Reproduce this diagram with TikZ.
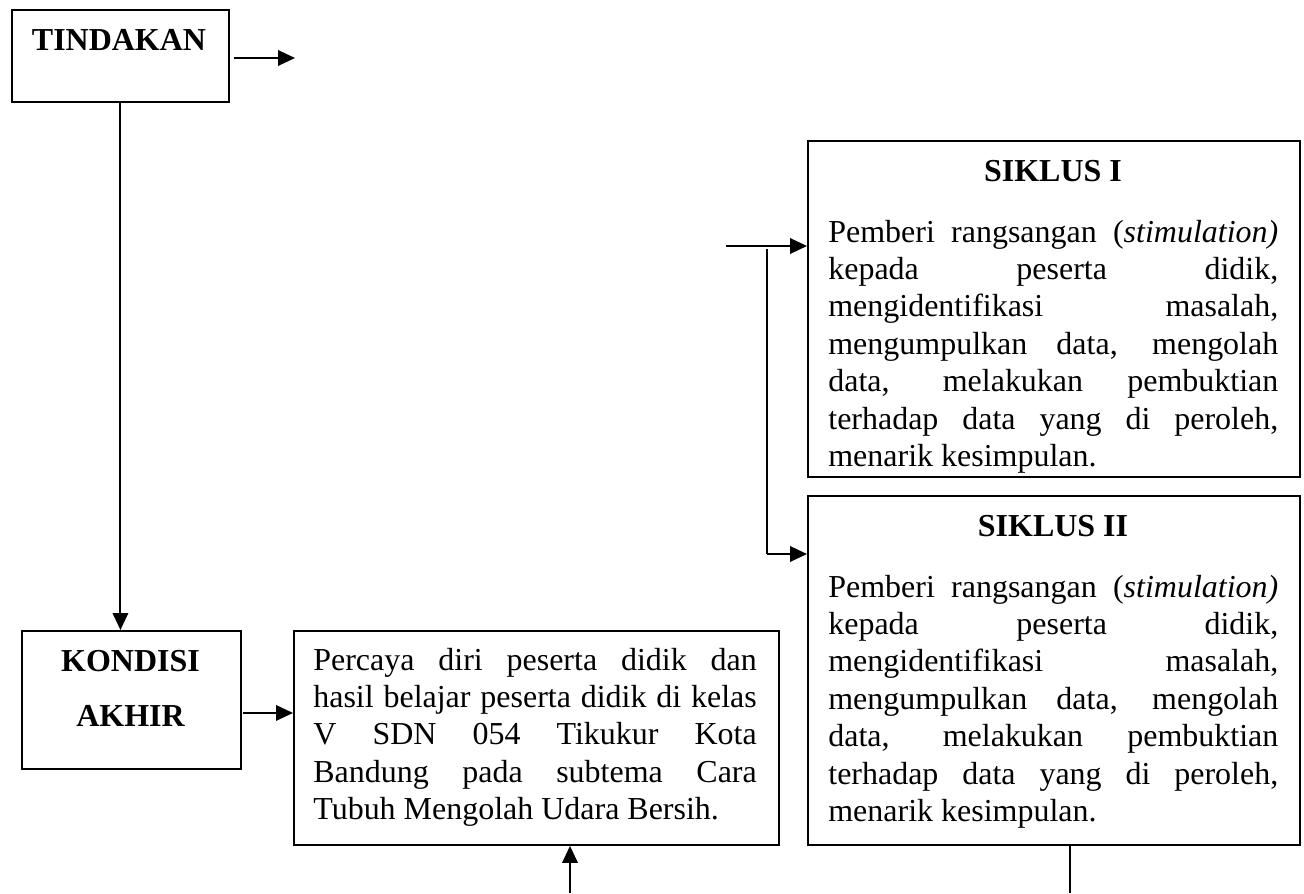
\documentclass[tikz,border=0pt]{standalone}
\usepackage{fontspec}
\setmainfont{Liberation Serif}
\usetikzlibrary{arrows.meta,calc}
\newcommand{\langkah}{Pemberi rangsangan (\textit{stimulation)}\linebreak
  kepada peserta didik,\linebreak
  mengidentifikasi masalah,\linebreak
  mengumpulkan data, mengolah\linebreak
  data, melakukan pembuktian\linebreak
  terhadap data yang di peroleh,\linebreak
  menarik kesimpulan.}
\tikzset{
  box/.style={draw, line width=1.1pt, anchor=north west, inner sep=0pt},
  head/.style={font=\fontsize{18.2}{21.3}\selectfont\bfseries, inner sep=0pt, anchor=base},
  body/.style={font=\fontsize{18.2}{21.3}\selectfont, text width=#1, align=justify, inner sep=0pt, anchor=base west},
  body/.default=9cm,
  arr/.style={-{Triangle[length=0.34cm,width=0.31cm]}, line width=1.1pt},
  link/.style={line width=0.7pt},
}

\begin{document}
\begin{tikzpicture}[x=0.02cm, y=-0.02cm]
  \useasboundingbox (0,0) rectangle (1304,893);
  % left column
  \node[box, minimum width=4.34cm, minimum height=1.84cm] (tind) at (11,9) {};
  \node[head] at (119,50) {TINDAKAN};
  \node[box, minimum width=4.38cm, minimum height=2.76cm] (kond) at (21,630) {};
  \node[head] at (130.5,671.7) {KONDISI};
  \node[head] at (130.5,726.7) {AKHIR};
  % result
  \node[box, minimum width=9.7cm, minimum height=4.28cm] (hasil) at (293,630) {};
  \node[body=8.87cm] at (313,670) {Percaya diri peserta didik dan\linebreak
    hasil belajar peserta didik di kelas\linebreak
    V SDN 054 Tikukur Kota\linebreak
    Bandung pada subtema Cara\linebreak
    Tubuh Mengolah Udara Bersih.};
  % cycles
  \foreach \nm/\ttl/\ytop/\hgt in {sikI/SIKLUS I/140/6.72cm, sikII/SIKLUS II/495/6.98cm} {
    \node[box, minimum width=9.84cm, minimum height=\hgt] (\nm) at (807,\ytop) {};
    \node[head] at (1053,\ytop+41) {\ttl};
    \node[body] at (828,\ytop+102) {\langkah};
  }
  % connectors
  \coordinate (tout) at (295,58);
  \draw[arr, shorten <=0.08cm] (tind.east |- tout) -- (tout);
  \draw[arr] (tind.south) -- (tind.south |- kond.north);
  \draw[arr, shorten <=0.02cm] ($(kond.east)+(0,13)$) coordinate (k1) -- (hasil.west |- k1);
  \coordinate (hin) at (570,893);
  \draw[arr] (hin) -- (hin |- hasil.south);
  \coordinate (s1in) at (726,246);
  \draw[arr] (s1in) -- (s1in -| sikI.west);
  \coordinate (fork) at (767,249);
  \coordinate (s2in) at (767,554);
  \draw[link] (fork) -- (s2in);
  \draw[arr] (s2in) -- (s2in -| sikII.west);
  \coordinate (s2out) at (1070,893);
  \draw[link] (s2out |- sikII.south) -- (s2out);
\end{tikzpicture}
\end{document}
